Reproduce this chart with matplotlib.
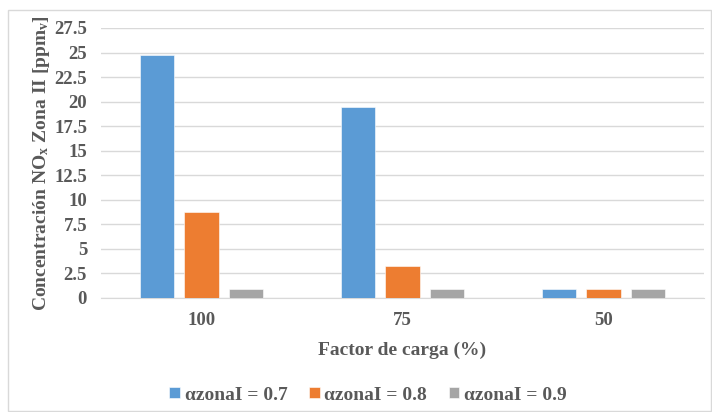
import numpy as np
import matplotlib
matplotlib.use("Agg")
import matplotlib.pyplot as plt
from matplotlib.patches import Rectangle

# Data
categories = ["100", "75", "50"]
series_labels = ["αzonaI = 0.7", "αzonaI = 0.8", "αzonaI = 0.9"]
alpha_07 = [24.8, 19.5, 0.9]
alpha_08 = [8.8, 3.3, 0.9]
alpha_09 = [0.9, 0.9, 0.9]
y_ticks = [0, 2.5, 5, 7.5, 10, 12.5, 15, 17.5, 20, 22.5, 25, 27.5]
y_tick_labels = ["0", "2.5", "5", "7.5", "10", "12.5", "15", "17.5", "20", "22.5", "25", "27.5"]

colors = ["#5B9BD5", "#ED7D31", "#A5A5A5"]
text_color = "#595959"
grid_color = "#D9D9D9"

plt.rcParams["font.family"] = ["Liberation Serif", "DejaVu Serif"]
plt.rcParams["font.weight"] = "bold"
plt.rcParams["mathtext.fontset"] = "custom"
plt.rcParams["mathtext.rm"] = "Liberation Serif:bold"
plt.rcParams["mathtext.default"] = "rm"

fig = plt.figure(figsize=(7.12, 4.12), dpi=100)
ax = fig.add_axes([101 / 712, 1 - 298 / 412, 603 / 712, 270 / 412])

# outer chart border
fig.patches.append(Rectangle((8 / 712, 1 / 412), 703 / 712, 401 / 412,
                             transform=fig.transFigure, fill=False,
                             edgecolor=grid_color, linewidth=1))

x = np.arange(len(categories))
width = 0.17
step = 0.221
for i, (vals, lab) in enumerate(zip([alpha_07, alpha_08, alpha_09], series_labels)):
    ax.bar(x + (i - 1) * step, vals, width, color=colors[i], label=lab,
           edgecolor="white", linewidth=0.4, zorder=3)

ax.set_xlim(-0.5, 2.5)
ax.set_ylim(0, 27.5)
ax.set_yticks(y_ticks)
ax.set_yticklabels(y_tick_labels)
ax.set_xticks(x)
ax.set_xticklabels(categories)
ax.tick_params(axis="both", length=0, colors=text_color, labelsize=13.5)
ax.tick_params(axis="x", pad=10)
ax.tick_params(axis="y", pad=10)

ax.grid(axis="y", color=grid_color, linewidth=1, zorder=0)
for side in ["top", "right", "left"]:
    ax.spines[side].set_visible(False)
ax.spines["bottom"].set_color(grid_color)

ax.set_xlabel("Factor de carga (%)", fontsize=14, color=text_color, fontweight="bold")
ax.xaxis.set_label_coords(0.5, -0.16)
ax.set_ylabel(r"Concentración NO$_{x}$ Zona II [ppm$_{v}$]", fontsize=14,
              color=text_color, fontweight="bold")
ax.yaxis.set_label_coords(-0.082, 0.5)

fig.legend(loc="center", bbox_to_anchor=(368 / 712, 1 - 395 / 412), ncol=3,
           frameon=False, handlelength=0.55, handleheight=0.55, handletextpad=0.25,
           columnspacing=1.1, prop={"size": 14, "weight": "bold"},
           labelcolor=text_color)

fig.savefig("out.png", dpi=100)
